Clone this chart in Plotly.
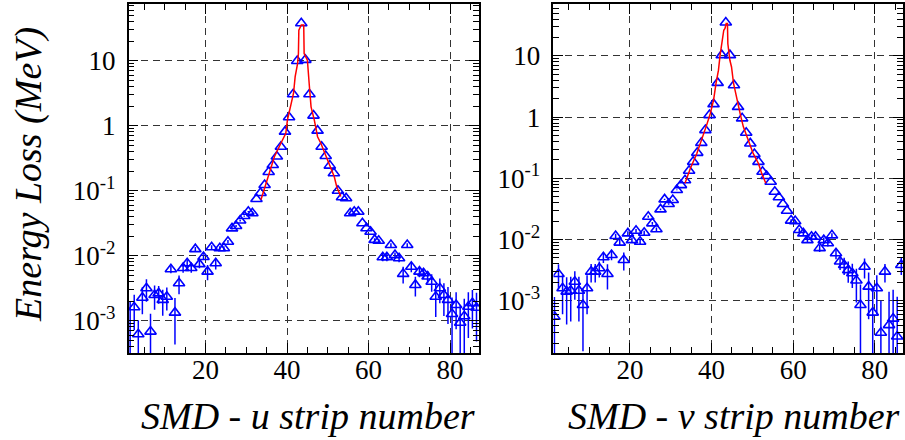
import plotly.graph_objects as go

# ---------------- data ----------------
strip = [k + 0.5 for k in range(1, 87)]  # strip-number bin centres 1.5 .. 86.5

u_energy = [
    2.5e-4, 1.61e-3, 6.2e-4, 2.26e-3, 3.15e-3, 6.8e-4, 2.48e-3, 2.63e-3, 2.09e-3, 2.34e-3,
    6.17e-3, 1.33e-3, 3.76e-3, 6.46e-3, 7.64e-3, 6.46e-3, 1.26e-2, 7.41e-3, 9.55e-3, 5.68e-3,
    1.35e-2, 7.64e-3, 1.30e-2, 1.30e-2, 1.64e-2, 2.63e-2, 2.86e-2, 3.47e-2, 4.07e-2, 4.75e-2,
    4.49e-2, 7.45e-2, 9.23e-2, 0.122, 0.194, 0.248, 0.336, 0.475, 0.809, 1.35,
    3.04, 9.89, 37.6, 10.3, 3.04, 1.43, 0.838, 0.475, 0.342, 0.243,
    0.185, 0.100, 0.0794, 0.0764, 0.0449, 0.0475, 0.0475, 0.0316, 0.0264, 0.0234,
    0.0175, 0.0170, 9.44e-3, 9.44e-3, 1.46e-2, 1.02e-2, 9.12e-3, 5.25e-3, 1.46e-2, 6.76e-3,
    3.55e-3, 5.68e-3, 5.37e-3, 4.79e-3, 3.98e-3, 2.34e-3, 3.16e-3, 2.48e-3, 2.09e-3, 1.27e-3,
    1.74e-3, 9.3e-4, 1.17e-3, 1.64e-3, 1.86e-3, 1.58e-3,
]
u_err = [
    1.75e-3, 9e-4, 4e-4, 1.0e-3, 1.2e-3, 6e-4, 1.0e-3, 8e-4, 9e-4, 9e-4,
    8e-4, 9e-4, 1.2e-3, 1.0e-3, 1.0e-3, 1.0e-3, 1.0e-3, 1.0e-3, 1.0e-3, 1.5e-3,
    1.0e-3, 1.5e-3, 1.0e-3, 1.0e-3, 1.0e-3, 1.0e-3, 1.0e-3, 1.0e-3, 1.0e-3, 1.0e-3,
    1.0e-3, 0, 0, 0, 0, 0, 0, 0, 0, 0,
    0, 0, 0, 0, 0, 0, 0, 0, 0, 0,
    0, 0, 0, 0, 0, 0, 0, 0, 0, 0,
    1.0e-3, 1.0e-3, 1.2e-3, 1.2e-3, 1.0e-3, 1.0e-3, 1.2e-3, 1.5e-3, 1.0e-3, 1.2e-3,
    1.2e-3, 1.0e-3, 1.0e-3, 1.0e-3, 1.2e-3, 1.2e-3, 1.3e-3, 1.3e-3, 1.2e-3, 1.0e-3,
    1.0e-3, 8e-4, 1.0e-3, 1.1e-3, 1.1e-3, 1.1e-3,
]

v_energy = [
    5.5e-4, 2.73e-3, 1.60e-3, 1.41e-3, 1.46e-3, 2.04e-3, 1.46e-3, 8.5e-4, 1.60e-3, 2.99e-3,
    2.99e-3, 3.39e-3, 5.13e-3, 2.73e-3, 5.58e-3, 1.14e-2, 8.91e-3, 4.62e-3, 1.26e-2, 9.77e-3,
    1.39e-2, 9.20e-3, 1.29e-2, 2.36e-2, 1.84e-2, 1.47e-2, 3.11e-2, 4.53e-2, 3.80e-2, 4.42e-2,
    6.46e-2, 7.76e-2, 9.33e-2, 0.133, 0.186, 0.261, 0.380, 0.614, 1.08, 1.63,
    3.63, 10.3, 35.2, 10.3, 3.33, 1.47, 0.955, 0.555, 0.372, 0.249,
    0.186, 0.128, 0.109, 0.0879, 0.0603, 0.0490, 0.0380, 0.0295, 0.0204, 0.0200,
    0.0143, 0.0126, 9.77e-3, 1.11e-2, 1.11e-2, 7.24e-3, 9.77e-3, 8.71e-3, 1.17e-2, 5.96e-3,
    4.37e-3, 3.84e-3, 3.16e-3, 2.82e-3, 2.14e-3, 8.5e-4, 3.60e-3, 1.70e-3, 6.4e-4, 1.60e-3,
    3.0e-4, 2.99e-3, 4.0e-4, 5.1e-4, 2.6e-4, 3.84e-3,
]
v_err = [
    6e-4, 1.2e-3, 1.0e-3, 1.0e-3, 1.0e-3, 1.0e-3, 1.0e-3, 7e-4, 1.0e-3, 1.0e-3,
    1.0e-3, 1.0e-3, 1.0e-3, 1.2e-3, 1.0e-3, 1.0e-3, 1.0e-3, 1.5e-3, 1.0e-3, 1.0e-3,
    1.0e-3, 1.0e-3, 1.0e-3, 1.0e-3, 1.0e-3, 1.0e-3, 1.0e-3, 1.0e-3, 1.0e-3, 1.0e-3,
    1.0e-3, 0, 0, 0, 0, 0, 0, 0, 0, 0,
    0, 0, 0, 0, 0, 0, 0, 0, 0, 0,
    0, 0, 0, 0, 0, 0, 0, 0, 1.0e-3, 1.0e-3,
    1.0e-3, 1.0e-3, 1.0e-3, 1.0e-3, 1.0e-3, 1.0e-3, 1.0e-3, 1.0e-3, 1.0e-3, 1.2e-3,
    1.2e-3, 1.2e-3, 1.2e-3, 1.2e-3, 1.2e-3, 1.0e-3, 1.3e-3, 1.2e-3, 1.0e-3, 1.0e-3,
    7e-4, 1.0e-3, 1.0e-3, 1.0e-3, 9e-4, 1.2e-3,
]

# simulation curves (red)
u_sim_x = [33.6, 35.3, 36.9, 38.5, 39.7, 40.1, 41.0, 41.6, 42.0, 42.6, 42.8, 42.9, 43.5,
           44.1, 44.2, 45.0, 45.5, 45.9, 46.7, 47.5, 48.3, 49.9, 51.6, 52.2, 53.2]
u_sim_y = [0.0724, 0.164, 0.333, 0.537, 0.764, 1.22, 2.21, 3.16, 5.68, 9.12, 12.9, 29.5, 35.5,
           35.5, 12.9, 10.2, 3.98, 1.95, 1.22, 0.676, 0.537, 0.295, 0.164, 0.115, 0.0813]
v_sim_x = [33.5, 34.8, 36.4, 37.6, 38.8, 39.7, 40.5, 41.1, 41.7, 42.1, 42.7, 43.0, 43.3, 43.6,
           43.9, 44.0, 44.5, 44.9, 45.4, 46.2, 47.0, 47.8, 49.0, 50.2, 51.5, 52.3, 53.3]
v_sim_y = [0.0832, 0.145, 0.255, 0.422, 0.741, 1.15, 1.90, 3.55, 5.85, 10.3, 18.1, 26.3, 28.1, 33.9,
           33.9, 15.8, 8.51, 6.61, 3.55, 1.90, 1.15, 0.695, 0.422, 0.255, 0.175, 0.120, 0.0832]

y_tickvals = [1e-3, 1e-2, 1e-1, 1, 10]
y_ticktext = ["10<sup>-3</sup>", "10<sup>-2</sup>", "10<sup>-1</sup>", "1", "10"]
x_tickvals = [20, 40, 60, 80]
x_ticktext = ["20", "40", "60", "80"]

u_title = "SMD - u strip number"
v_title = "SMD - v strip number"
y_title = "Energy Loss (MeV)"

# ---------------- figure ----------------
W, H = 905, 440
BLUE = "#0000ff"
RED = "#ff0000"
SERIF = "'Liberation Serif', 'Times New Roman', Times, serif"

fig = go.Figure()


def add_panel(xa, ya, energy, err, sx, sy):
    fig.add_trace(go.Scatter(
        x=strip, y=energy, xaxis=xa, yaxis=ya, mode="markers",
        marker=dict(symbol="triangle-up-open", size=10, color=BLUE,
                    line=dict(color=BLUE, width=1.6)),
        error_y=dict(type="data", array=err, visible=True, color=BLUE,
                     thickness=1.5, width=0),
        showlegend=False, hoverinfo="x+y"))
    fig.add_trace(go.Scatter(
        x=sx, y=sy, xaxis=xa, yaxis=ya, mode="lines",
        line=dict(color=RED, width=1.5), showlegend=False))


add_panel("x", "y", u_energy, u_err, u_sim_x, u_sim_y)
add_panel("x2", "y2", v_energy, v_err, v_sim_x, v_sim_y)

minor_log = [m * 10.0 ** e for e in range(-5, 3) for m in range(2, 10)]

common_x = dict(
    tickmode="array", tickvals=x_tickvals, ticktext=x_ticktext,
    ticks="inside", ticklen=10, tickwidth=1, tickcolor="black",
    showline=True, linecolor="black", linewidth=1.5, mirror="allticks",
    showgrid=True, gridcolor="#333333", gridwidth=1, griddash="7px,5px",
    zeroline=False,
    minor=dict(tickmode="linear", tick0=0, dtick=5, ticks="inside", ticklen=6,
               tickwidth=1, tickcolor="black", showgrid=False),
    tickfont=dict(family=SERIF, size=27, color="black"),
    ticklabelstandoff=-8,
)
common_y = dict(
    type="log", tickmode="array", tickvals=y_tickvals, ticktext=y_ticktext,
    ticks="inside", ticklen=10, tickwidth=1, tickcolor="black",
    showline=True, linecolor="black", linewidth=1.5, mirror="allticks",
    showgrid=True, gridcolor="#333333", gridwidth=1, griddash="7px,5px",
    zeroline=False,
    minor=dict(tickmode="array", tickvals=minor_log, ticks="inside", ticklen=6,
               tickwidth=1, tickcolor="black", showgrid=False),
    tickfont=dict(family=SERIF, size=27, color="black"),
    ticklabelstandoff=6,
)

y_dom = [1 - 353 / H, 1 - 4 / H]

fig.update_layout(
    width=W, height=H,
    margin=dict(l=0, r=0, t=0, b=0),
    paper_bgcolor="white", plot_bgcolor="white",
    xaxis=dict(common_x, domain=[129 / W, 480 / W], range=[1.15, 87.1], anchor="y"),
    yaxis=dict(common_y, domain=y_dom, range=[-3.497, 1.872], anchor="x"),
    xaxis2=dict(common_x, domain=[554.7 / W, 1.0], range=[1.27, 86.92], anchor="y2"),
    yaxis2=dict(common_y, domain=y_dom, range=[-3.854, 1.849], anchor="x2"),
    annotations=[
        dict(text=y_title, xref="paper", yref="paper", x=28 / W, y=1 - 174 / H,
             textangle=-90, showarrow=False, xanchor="center", yanchor="middle",
             font=dict(family=SERIF, size=38, color="black", style="italic")),
        dict(text=u_title, xref="paper", yref="paper", x=309 / W, y=1 - 416 / H,
             showarrow=False, xanchor="center", yanchor="middle",
             font=dict(family=SERIF, size=38, color="black", style="italic")),
        dict(text=v_title, xref="paper", yref="paper", x=736 / W, y=1 - 416 / H,
             showarrow=False, xanchor="center", yanchor="middle",
             font=dict(family=SERIF, size=38, color="black", style="italic")),
    ],
)

fig.write_html("out.html")
